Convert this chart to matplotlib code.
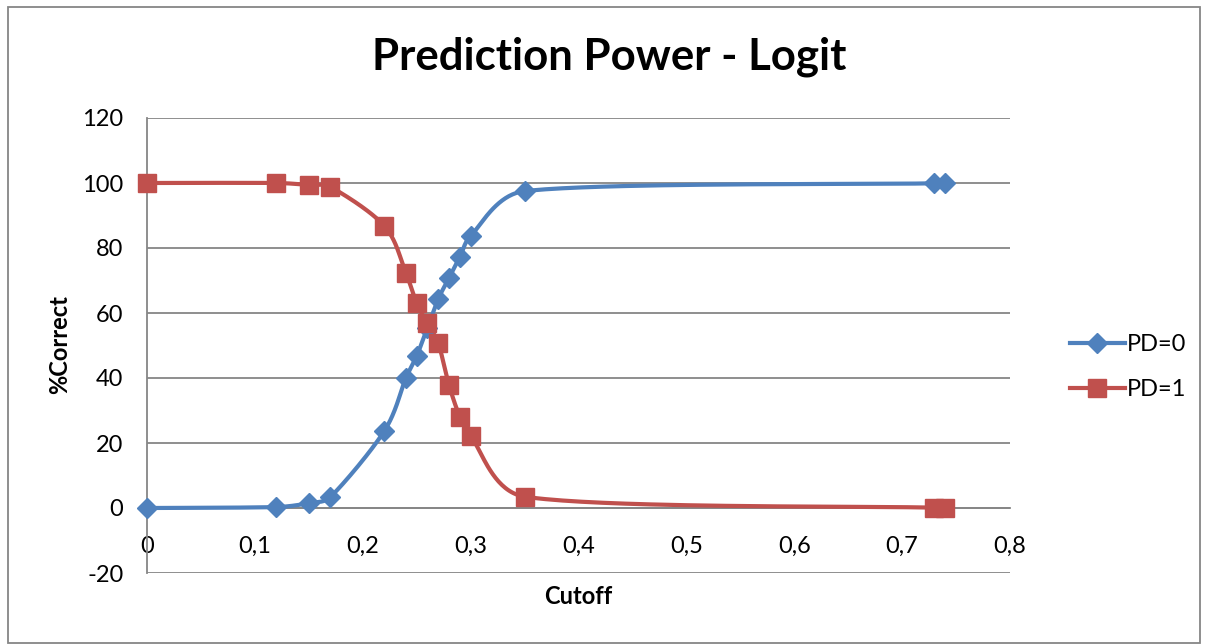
import numpy as np
import matplotlib
matplotlib.use('Agg')
import matplotlib.pyplot as plt
from matplotlib.patches import Rectangle

# values
cutoff = [0.0, 0.12, 0.15, 0.17, 0.22, 0.24, 0.25, 0.26, 0.27, 0.28, 0.29, 0.30, 0.35, 0.73, 0.74]
pd0 = [0.0, 0.3, 1.5, 3.4, 23.7, 40.0, 46.8, 55.5, 64.3, 70.8, 77.2, 83.7, 97.5, 99.9, 100.0]
pd1 = [100.0, 100.0, 99.4, 98.8, 86.8, 72.3, 63.0, 56.8, 50.7, 37.8, 28.1, 22.2, 3.5, 0.1, 0.0]
series_names = ['PD=0', 'PD=1']
x_ticks = [0, 0.1, 0.2, 0.3, 0.4, 0.5, 0.6, 0.7, 0.8]
x_tick_labels = ['0', '0,1', '0,2', '0,3', '0,4', '0,5', '0,6', '0,7', '0,8']
y_ticks = [-20, 0, 20, 40, 60, 80, 100, 120]

BLUE = '#4F81BD'
RED = '#C0504D'
GRID = '#868686'
FONT = ['Lato', 'DejaVu Sans']

plt.rcParams['font.family'] = FONT
plt.rcParams['axes.unicode_minus'] = False

# rough pixels per data unit, so the smoothing works in screen proportions
SX, SY = 1077.5, 3.25


def smooth(xs, ys, n=40, k=0.4):
    # catmull-rom bezier, control arms clamped on short segments
    p = np.column_stack([np.asarray(xs, float) * SX, np.asarray(ys, float) * SY])
    m = len(p)
    tang = np.array([(p[min(i + 1, m - 1)] - p[max(i - 1, 0)]) / 6 for i in range(m)])
    t = np.linspace(0, 1, n)[:, None]
    pts = []
    for i in range(m - 1):
        p1, p2 = p[i], p[i + 1]
        L = np.hypot(*(p2 - p1))
        t1, t2 = tang[i], tang[i + 1]
        n1, n2 = np.hypot(*t1), np.hypot(*t2)
        if n1 > k * L:
            t1 = t1 * k * L / n1
        if n2 > k * L:
            t2 = t2 * k * L / n2
        c1 = p1 + t1
        c2 = p2 - t2
        b = (1 - t) ** 3 * p1 + 3 * (1 - t) ** 2 * t * c1 + 3 * (1 - t) * t ** 2 * c2 + t ** 3 * p2
        pts.append(b)
    pts = np.vstack(pts)
    return pts[:, 0] / SX, pts[:, 1] / SY


fig = plt.figure(figsize=(12.08, 6.44), dpi=100)
ax = fig.add_axes([147 / 1208, 1 - 573 / 644, (1010 - 147) / 1208, (573 - 118) / 644])

for ys, color, marker, ms, name in [(pd0, BLUE, 'D', 10, series_names[0]),
                                     (pd1, RED, 's', 13.5, series_names[1])]:
    sx, sy = smooth(cutoff, ys)
    ax.plot(sx, sy, color=color, lw=3, solid_capstyle='round', zorder=3)
    ax.plot(cutoff, ys, linestyle='none', marker=marker, ms=ms, color=color,
            mec=color, zorder=4, clip_on=False)
    # legend proxy
    ax.plot([], [], color=color, lw=3, marker=marker, ms=ms, label=name)

ax.set_xlim(0, 0.8)
ax.set_ylim(-20, 120)
ax.set_xticks(x_ticks)
ax.set_xticklabels(x_tick_labels)
ax.set_yticks(y_ticks)
ax.yaxis.grid(True, color=GRID, lw=1.3)
ax.set_axisbelow(True)

for s in ['top', 'right']:
    ax.spines[s].set_visible(False)
ax.spines['left'].set_color(GRID)
ax.spines['left'].set_linewidth(1.3)
ax.spines['bottom'].set_position(('data', 0))
ax.spines['bottom'].set_color(GRID)
ax.spines['bottom'].set_linewidth(1.3)
ax.tick_params(axis='x', length=0, pad=20, labelsize=17)
ax.tick_params(axis='y', length=0, pad=17, labelsize=17)

fig.text(60 / 1208, 1 - 345 / 644, '%Correct', rotation=90, ha='center', va='center',
         fontsize=17, fontweight='bold')
fig.text(578 / 1208, 1 - 597 / 644, 'Cutoff', ha='center', va='center',
         fontsize=17, fontweight='bold')
fig.text(609 / 1208, 1 - 57 / 644, 'Prediction Power - Logit', ha='center', va='center',
         fontsize=31.5, fontweight='bold')

fig.legend(loc='center left', bbox_to_anchor=(1049 / 1208, 1 - 367 / 644),
           frameon=False, fontsize=17, handlelength=2.3, labelspacing=1.0,
           handletextpad=0.1)

fig.patches.append(Rectangle((8 / 1208, 1 / 644), 1192 / 1208, 636 / 644,
                             transform=fig.transFigure, fill=False,
                             edgecolor=GRID, lw=1.3))

fig.savefig('out.png', dpi=100)
